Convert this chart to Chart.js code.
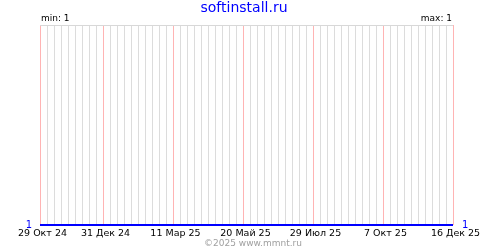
<!DOCTYPE html>
<html>
<head>
<meta charset="utf-8">
<script src="https://cdn.jsdelivr.net/npm/chart.js@4/dist/chart.umd.min.js"></script>
<style>
  html, body { margin: 0; padding: 0; background: #fff; }
  #chart { display: block; }
</style>
</head>
<body>
<canvas id="chart" width="500" height="250"></canvas>
<script>
(function () {
  "use strict";

  var siteName = 'softinstall.ru';
  var footerText = '©2025 www.mmnt.ru';

  // series
  var seriesDates = ['2024-10-29', '2025-12-16'];
  var seriesValues = [1, 1];

  // x axis tick labels
  var tickDates = ['2024-10-29', '2024-12-31', '2025-03-11', '2025-05-20', '2025-07-29', '2025-10-07', '2025-12-16'];
  var tickLabels = ['29 Окт 24', '31 Дек 24', '11 Мар 25', '20 Май 25', '29 Июл 25', '7 Окт 25', '16 Дек 25'];

  var DAY = 86400000;
  var start = Date.parse(tickDates[0]);
  function dayOf(d) { return Math.round((Date.parse(d) - start) / DAY); }

  var points = seriesDates.map(function (d, i) { return { x: dayOf(d), y: seriesValues[i] }; });
  var labelAt = {};
  tickDates.forEach(function (d, i) { labelAt[dayOf(d)] = tickLabels[i]; });
  var lastDay = dayOf(tickDates[tickDates.length - 1]);

  var minVal = Math.min.apply(null, seriesValues);
  var maxVal = Math.max.apply(null, seriesValues);

  var font = 'DejaVu Sans';

  function isMajor(v) { return labelAt[Math.round(v)] !== undefined; }

  var textPlugin = {
    id: 'texts',
    afterDraw: function (chart) {
      var c = chart.ctx, a = chart.chartArea;
      c.save();
      c.textBaseline = 'alphabetic';
      c.fillStyle = '#0000ff';
      c.font = '14px "' + font + '"';
      c.textAlign = 'center';
      c.fillText(siteName, 244, 12);
      c.fillStyle = '#000';
      c.font = '9px "' + font + '"';
      c.textAlign = 'left';
      c.fillText('min: ' + minVal, a.left + 1, 21);
      c.textAlign = 'right';
      c.fillText('max: ' + maxVal, a.right - 1, 21);
      c.fillStyle = '#a0a0a0';
      c.textAlign = 'center';
      c.fillText(footerText, 253, 246);
      c.restore();
    }
  };

  var ctx = document.getElementById('chart').getContext('2d');
  var chart = new Chart(ctx, {
    type: 'line',
    data: {
      datasets: [{
        data: points,
        borderColor: '#0000ff',
        borderWidth: 2,
        pointRadius: 0,
        fill: false,
        clip: false,
        yAxisID: 'y'
      }]
    },
    options: {
      responsive: false,
      devicePixelRatio: 1,
      animation: false,
      layout: { padding: { top: 25, left: 0, right: 0, bottom: 0 } },
      plugins: {
        legend: { display: false },
        title: { display: false },
        tooltip: { enabled: false }
      },
      scales: {
        x: {
          type: 'linear',
          min: 0,
          max: lastDay,
          afterFit: function (s) { s.height = 25; },
          border: { display: false },
          grid: {
            drawTicks: false,
            color: function (c) { return isMajor(c.tick.value) ? '#ffb4b4' : '#dcdcdc'; }
          },
          ticks: {
            stepSize: 7,
            autoSkip: false,
            maxRotation: 0,
            padding: 3,
            labelOffset: 2.5,
            color: '#000',
            font: { family: font, size: 9.5 },
            callback: function (v) { return isMajor(v) ? labelAt[Math.round(v)] : ''; }
          }
        },
        y: {
          position: 'left',
          min: 1,
          max: 2,
          afterFit: function (s) { s.width = 40; },
          border: { display: false },
          grid: {
            drawTicks: false,
            color: function (c) { return c.tick.value === 2 ? '#d8d8d8' : 'rgba(0,0,0,0)'; }
          },
          ticks: {
            stepSize: 1,
            padding: 8,
            color: '#0000ff',
            font: { family: font, size: 10 },
            callback: function (v) { return v === 1 ? String(v) : ''; }
          }
        },
        y2: {
          position: 'right',
          min: 1,
          max: 2,
          afterFit: function (s) { s.width = 47; },
          border: { display: false },
          grid: { display: false, drawTicks: false },
          ticks: {
            stepSize: 1,
            padding: 9,
            color: '#0000ff',
            font: { family: font, size: 10 },
            callback: function (v) { return v === 1 ? String(v) : ''; }
          }
        }
      }
    },
    plugins: [textPlugin]
  });
})();
</script>
</body>
</html>
